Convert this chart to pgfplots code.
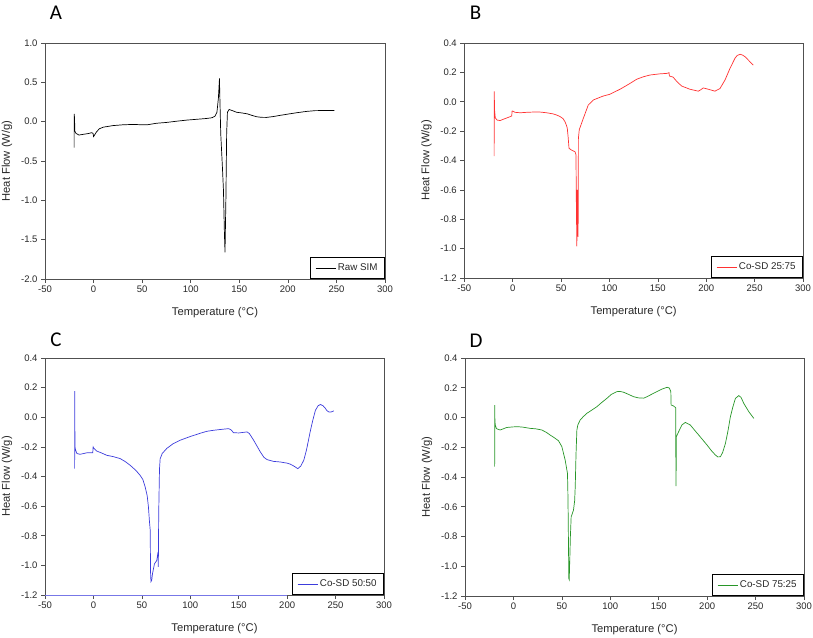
\documentclass[border=0pt]{standalone}
\usepackage{pgfplots}
\pgfplotsset{compat=1.18}
\usepackage{fontspec}
\setmainfont{Liberation Sans}
\newfontfamily\calibri{Carlito}
\definecolor{axgray}{RGB}{80,80,80}
\definecolor{txtgray}{RGB}{40,40,40}
\definecolor{cB}{RGB}{255,50,50}
\definecolor{cC}{RGB}{60,60,220}
\definecolor{cD}{RGB}{40,150,40}
\pgfplotsset{
  dsc/.style={
    scale only axis, width=339pt, height=236pt,
    xmin=-50, xmax=300, xtick={-50,0,50,100,150,200,250,300},
    axis line style={draw=axgray, line width=0.8pt},
    tick style={draw=axgray, line width=0.6pt},
    tick align=outside, xtick pos=bottom, ytick pos=left, major tick length=4pt,
    ticklabel style={font=\fontsize{9.5}{9.5}\selectfont, text=txtgray},
    xticklabel style={yshift=1pt},
    /pgf/number format/assume math mode=true,
    yticklabel style={/pgf/number format/.cd, fixed, fixed zerofill, precision=1},
    xlabel={Temperature (°C)}, ylabel={Heat Flow (W/g)},
    label style={font=\fontsize{11.2}{12}\selectfont, text=txtgray},
    xlabel style={at={(axis description cs:0.5,-0.143)}, anchor=center},
    ylabel style={at={(axis description cs:-0.112,0.5)}, anchor=center, rotate=0},
    legend style={at={(1,0)}, anchor=south east, draw=black, line width=0.8pt,
      font=\fontsize{9.8}{10}\selectfont, text=txtgray, inner xsep=5pt, inner ysep=4.5pt},
    legend cell align=left,
    legend image code/.code={\draw[#1] (0pt,0pt) -- (20pt,0pt);},
    every axis plot/.append style={line width=0.7pt},
  }
}
\begin{document}
\begin{tikzpicture}
\path[use as bounding box] (0,0) rectangle (813pt,637pt);
% ---------------- A ----------------
\begin{axis}[dsc, at={(45pt,358pt)}, anchor=south west, width=340pt, height=236pt,
  ymin=-2, ymax=1, ytick={-2,-1.5,-1,-0.5,0,0.5,1}]
\addplot[black] coordinates {
(-20,-0.33) (-20,0.10) (-19.6,0.05) (-19.3,-0.12) (-18,-0.15) (-15,-0.17) (-10,-0.16)
(-5,-0.15) (-2,-0.14) (-0.5,-0.15) (0,-0.19) (1,-0.17) (3,-0.13) (6,-0.09) (10,-0.07)
(20,-0.05) (30,-0.04) (41,-0.035) (50,-0.04) (55,-0.04) (65,-0.02) (75,-0.01) (85,0.005)
(96,0.02) (106,0.03) (116,0.04) (122,0.05) (125,0.07) (127,0.12) (128.5,0.3) (129.6,0.55)
(129.9,0.36) (130.9,-0.15) (132.6,-0.57) (133.7,-0.87) (134.7,-1.42) (135.3,-1.66)
(136.2,-1.0) (137,-0.15) (137.8,0.12) (139.5,0.155) (143,0.14) (147,0.12) (153,0.11)
(158,0.10) (163,0.08) (168,0.062) (173,0.055) (178,0.054) (185,0.065) (192,0.08)
(202,0.10) (210,0.115) (219,0.13) (228,0.14) (238,0.142) (248,0.142)
};
\addlegendentry{Raw SIM}
\end{axis}
% ---------------- B ----------------
\begin{axis}[dsc, at={(464.3pt,359pt)}, anchor=south west, width=338.7pt, height=235pt,
  ymin=-1.2, ymax=0.4, ytick={-1.2,-1,-0.8,-0.6,-0.4,-0.2,0,0.2,0.4}]
\addplot[cB!45, forget plot] coordinates {(-50,-1.2) (201,-1.2)};
\addplot[cB] coordinates {
(-19.2,-0.37) (-19.0,0.07) (-18.8,-0.05) (-18,-0.11) (-16,-0.125) (-13,-0.128) (-10,-0.12)
(-6,-0.11) (-2,-0.10) (-1,-0.097) (-0.6,-0.063) (0.5,-0.065) (2.4,-0.072) (8,-0.075)
(14.5,-0.072) (22,-0.07) (28,-0.07) (35,-0.075) (42,-0.083) (46,-0.092) (49,-0.101)
(52,-0.115) (54,-0.135) (55.5,-0.16) (56.4,-0.18) (57.3,-0.24) (58.2,-0.317) (61,-0.33)
(64.4,-0.34) (65.4,-0.36) (65.8,-0.7) (66.3,-0.985) (66.8,-0.6) (67.3,-0.85) (67.6,-0.92)
(67.9,-0.25) (68.8,-0.19) (73,-0.113) (78.1,-0.022) (83.3,0.012) (93.6,0.039) (100,0.05)
(110.9,0.085) (120,0.12) (128.1,0.153) (135,0.17) (141.9,0.182) (152.2,0.19) (159,0.193)
(161,0.196) (161.5,0.198) (162,0.175) (165.7,0.168) (170,0.135) (174.6,0.107) (183.2,0.085)
(191.8,0.072) (194,0.08) (197,0.094) (202.2,0.085) (209,0.072) (214.2,0.09) (219.4,0.148)
(224.6,0.228) (229.7,0.296) (232,0.315) (235,0.323) (237.5,0.318) (240,0.307)
(245.1,0.273) (248.6,0.25)
};
\addlegendentry{Co-SD 25:75}
\end{axis}
% ---------------- C ----------------
\begin{axis}[dsc, at={(45pt,42pt)}, anchor=south west, width=339pt, height=237pt,
  ymin=-1.2, ymax=0.4, ytick={-1.2,-1,-0.8,-0.6,-0.4,-0.2,0,0.2,0.4}]
\addplot[cC!70, forget plot] coordinates {(-50,-1.2) (200,-1.2)};
\addplot[cC] coordinates {
(-19.4,-0.347) (-19.3,0.176) (-19.2,-0.04) (-19.0,-0.2) (-18.5,-0.22) (-17,-0.245)
(-13.8,-0.25) (-10,-0.245) (-6.9,-0.24) (-0.7,-0.24) (-0.3,-0.20) (0.5,-0.21) (3.4,-0.228)
(8,-0.24) (13.8,-0.257) (20,-0.265) (27.6,-0.279) (33,-0.30) (37.9,-0.324) (44,-0.36)
(48.2,-0.392) (51,-0.42) (53.4,-0.47) (55.5,-0.53) (56.8,-0.606) (57.8,-0.7) (58.6,-0.76)
(59.0,-1.05) (59.4,-1.11) (60.2,-1.1) (61,-1.056) (63,-0.99) (65.4,-0.967) (66.7,-0.91)
(67.0,-1.01) (67.4,-0.65) (68.2,-0.35) (68.9,-0.28) (71,-0.245) (75.8,-0.21) (82,-0.18)
(89.6,-0.155) (100,-0.13) (110.3,-0.108) (117,-0.095) (124,-0.088) (132,-0.082)
(139.6,-0.077) (142,-0.085) (144.7,-0.104) (150,-0.106) (155,-0.102) (158.6,-0.099)
(161,-0.11) (165.4,-0.155) (172.3,-0.234) (176,-0.27) (179.2,-0.286) (186,-0.298)
(193,-0.302) (200,-0.31) (203.4,-0.317) (207,-0.33) (211,-0.347) (214,-0.33) (217.2,-0.29)
(220,-0.22) (224.1,-0.088) (226.5,-0.02) (229.2,0.047) (232,0.078) (234.4,0.086)
(237,0.078) (239.6,0.059) (241,0.045) (243,0.036) (245.5,0.036) (248.2,0.043)
};
\addlegendentry{Co-SD 50:50}
\end{axis}
% ---------------- D ----------------
\begin{axis}[dsc, at={(465pt,41pt)}, anchor=south west, width=339pt, height=238pt,
  ymin=-1.2, ymax=0.4, ytick={-1.2,-1,-0.8,-0.6,-0.4,-0.2,0,0.2,0.4}]
\addplot[cD] coordinates {
(-19.4,-0.331) (-19.3,0.084) (-19.2,0.0) (-18.8,-0.05) (-17.5,-0.075) (-13.8,-0.084)
(-10,-0.075) (-6.9,-0.067) (0,-0.063) (5.1,-0.062) (10,-0.065) (17.2,-0.073) (23,-0.076)
(29.3,-0.084) (34,-0.1) (37.9,-0.118) (42,-0.135) (46.5,-0.156) (50,-0.196) (53.4,-0.286)
(55.8,-0.376) (56.2,-0.5) (56.5,-0.645) (56.9,-0.9) (57.2,-1.083) (57.6,-1.09) (58.2,-0.95)
(58.8,-0.8) (59.6,-0.668) (62,-0.623) (63.2,-0.56) (63.8,-0.466) (64.6,-0.25) (65.5,-0.084)
(66.5,-0.05) (68.9,-0.017) (72,0.005) (75.8,0.028) (81,0.05) (86.2,0.073) (91,0.1)
(96.5,0.129) (101,0.155) (106.9,0.174) (110,0.175) (113.7,0.17) (119,0.155) (124,0.14)
(129,0.132) (134.4,0.13) (138,0.14) (144.7,0.163) (148.2,0.174) (153,0.19) (158.6,0.203)
(161,0.198) (162.5,0.174) (162.8,0.084) (165.5,0.077) (167.5,0.065) (167.7,-0.3)
(167.9,-0.461) (168.2,-0.129) (170.6,-0.095) (174,-0.05) (177.5,-0.033) (182.7,-0.051)
(187,-0.085) (191.3,-0.118) (199.9,-0.185) (204,-0.22) (208.5,-0.252) (211,-0.265)
(213.7,-0.264) (216,-0.235) (218.9,-0.174) (221.5,-0.09) (224,0.005) (226.5,0.07)
(229.2,0.129) (232.7,0.147) (235,0.135) (237.8,0.095) (243,0.039) (248.2,-0.006)
};
\addlegendentry{Co-SD 75:25}
\end{axis}
% panel letters
\node[font=\calibri\fontsize{21}{21}\selectfont] at (56pt,624pt) {A};
\node[font=\calibri\fontsize{21}{21}\selectfont] at (475.5pt,624pt) {B};
\node[font=\calibri\fontsize{21}{21}\selectfont] at (56pt,297pt) {C};
\node[font=\calibri\fontsize{21}{21}\selectfont] at (476pt,296pt) {D};
\end{tikzpicture}
\end{document}
